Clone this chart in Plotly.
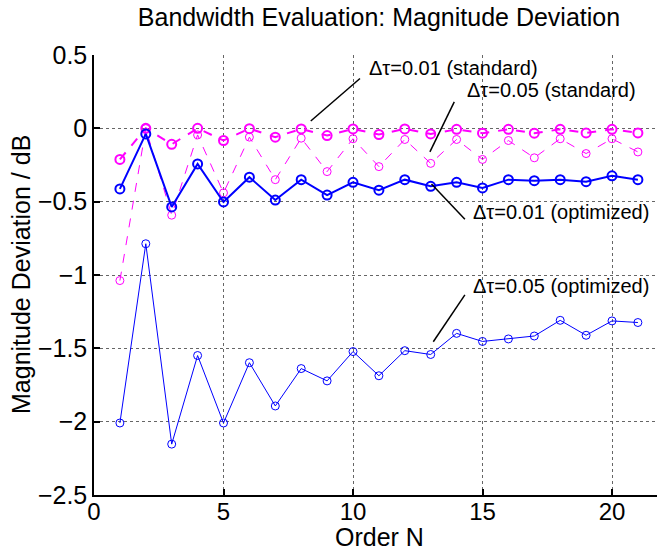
import plotly.graph_objects as go

order_n = list(range(1, 22))

std_001 = [-0.212, 0.0, -0.109, 0.0, -0.083, -0.002, -0.060, -0.004, -0.049, -0.004,
           -0.042, -0.004, -0.038, -0.007, -0.033, -0.007, -0.033, -0.007, -0.031, -0.007, -0.031]
std_005 = [-1.038, -0.002, -0.592, -0.045, -0.440, -0.060, -0.350, -0.067, -0.295, -0.071,
           -0.261, -0.076, -0.239, -0.076, -0.212, -0.083, -0.201, -0.071, -0.172, -0.071, -0.161]
opt_001 = [-0.413, -0.038, -0.536, -0.243, -0.502, -0.333, -0.489, -0.350, -0.455, -0.368,
           -0.422, -0.350, -0.395, -0.368, -0.406, -0.350, -0.357, -0.350, -0.364, -0.324, -0.350]
opt_005 = [-2.009, -0.787, -2.153, -1.549, -2.009, -1.598, -1.893, -1.638, -1.722, -1.522,
           -1.687, -1.516, -1.542, -1.398, -1.453, -1.436, -1.416, -1.309, -1.411, -1.313, -1.324]

x_ticks = [0, 5, 10, 15, 20]
y_ticks = [0.5, 0, -0.5, -1, -1.5, -2, -2.5]
y_tick_labels = ["0.5", "0", "\u22120.5", "\u22121", "\u22121.5", "\u22122", "\u22122.5"]

MAG = "#FF00FF"
BLUE = "#0000FF"
FONT = "Liberation Sans, Arial, Helvetica, sans-serif"

fig = go.Figure()
fig.add_trace(go.Scatter(x=order_n, y=std_005, mode="lines+markers",
                         line=dict(color=MAG, width=1, dash="dash"),
                         marker=dict(symbol="circle-open", size=8, color=MAG, line=dict(width=1, color=MAG))))
fig.add_trace(go.Scatter(x=order_n, y=std_001, mode="lines+markers",
                         line=dict(color=MAG, width=2, dash="dash"),
                         marker=dict(symbol="circle-open", size=9, color=MAG, line=dict(width=2, color=MAG))))
fig.add_trace(go.Scatter(x=order_n, y=opt_005, mode="lines+markers",
                         line=dict(color=BLUE, width=1),
                         marker=dict(symbol="circle-open", size=8, color=BLUE, line=dict(width=1, color=BLUE))))
fig.add_trace(go.Scatter(x=order_n, y=opt_001, mode="lines+markers",
                         line=dict(color=BLUE, width=2),
                         marker=dict(symbol="circle-open", size=9, color=BLUE, line=dict(width=2, color=BLUE))))

# annotation leader lines: (x0, y0, x1, y1) and labels
leaders = [
    (8.37, 0.05, 10.27, 0.34),
    (12.97, -0.16, 13.91, 0.18),
    (13.03, -0.38, 14.32, -0.62),
    (13.10, -1.455, 14.32, -1.136),
]
labels = [
    ("\u0394\u03c4=0.01 (standard)", 10.54, 0.41),
    ("\u0394\u03c4=0.05 (standard)", 14.32, 0.26),
    ("\u0394\u03c4=0.01 (optimized)", 14.55, -0.57),
    ("\u0394\u03c4=0.05 (optimized)", 14.55, -1.075),
]
for x0, y0, x1, y1 in leaders:
    fig.add_shape(type="line", x0=x0, y0=y0, x1=x1, y1=y1, xref="x", yref="y",
                  line=dict(color="black", width=1.5))
for txt, tx, ty in labels:
    fig.add_annotation(text=txt, x=tx, y=ty, xref="x", yref="y", showarrow=False,
                       xanchor="left", yanchor="middle",
                       font=dict(family=FONT, size=20, color="black"))

W, H = 657, 552
L, R, T, B = 94, 0, 55, 57
PW, PH = W - L - R, H - T - B
x_max = PW / 25.9

# axis titles placed as paper annotations
fig.add_annotation(text="Order N", xref="paper", yref="paper",
                   x=(379 - L) / PW, y=-(537 - (T + PH)) / PH,
                   xanchor="center", yanchor="middle", showarrow=False,
                   font=dict(family=FONT, size=25, color="black"))
fig.add_annotation(text="Magnitude Deviation / dB", xref="paper", yref="paper",
                   x=-(L - 21) / PW, y=0.5, textangle=-90,
                   xanchor="center", yanchor="middle", showarrow=False,
                   font=dict(family=FONT, size=25, color="black"))

fig.update_layout(
    width=W, height=H,
    margin=dict(l=L, r=R, t=T, b=B),
    paper_bgcolor="white", plot_bgcolor="white",
    showlegend=False,
    font=dict(family=FONT, size=25, color="black"),
    title=dict(text="Bandwidth Evaluation: Magnitude Deviation",
               x=(379 - L) / PW, xref="paper", xanchor="center",
               y=1 - 17 / H, yref="container", yanchor="middle",
               font=dict(family=FONT, size=25, color="black")),
)
fig.update_xaxes(range=[0, x_max], tickvals=x_ticks, ticktext=[str(v) for v in x_ticks],
                 showline=True, linecolor="black", linewidth=1.5, mirror=False,
                 ticks="inside", ticklen=6, tickwidth=1.5, tickcolor="black",
                 showgrid=True, gridcolor="#666666", griddash="dot", gridwidth=1,
                 zeroline=False, tickfont=dict(size=24), ticklabelstandoff=-6)
fig.update_yaxes(range=[-2.5, 0.5], tickvals=y_ticks, ticktext=y_tick_labels,
                 showline=True, linecolor="black", linewidth=1.5, mirror=False,
                 ticks="inside", ticklen=6, tickwidth=1.5, tickcolor="black",
                 showgrid=True, gridcolor="#666666", griddash="dot", gridwidth=1,
                 zeroline=False, tickfont=dict(size=25))

fig.write_html("out.html", config={"displayModeBar": False},
               post_script="document.body.style.margin='0';document.body.style.overflow='hidden';")
